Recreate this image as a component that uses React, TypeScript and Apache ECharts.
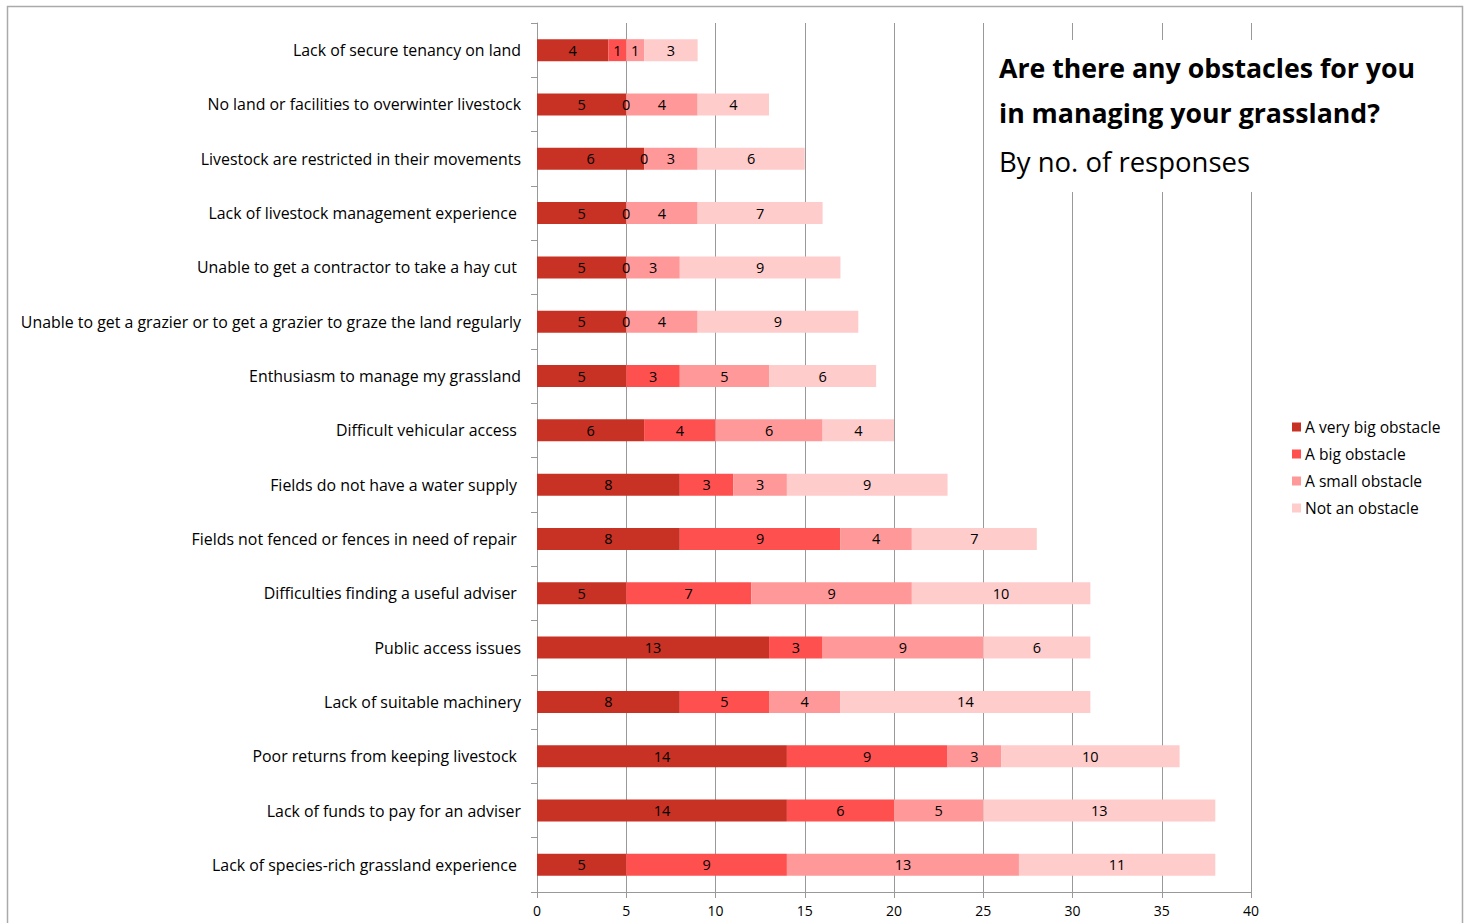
import React, { useEffect, useRef } from "react";
import * as echarts from "echarts";

const categories = [
  "Lack of secure tenancy on land",
  "No land or facilities to overwinter livestock",
  "Livestock are restricted in their movements",
  "Lack of livestock management experience ",
  "Unable to get a contractor to take a hay cut ",
  "Unable to get a grazier or to get a grazier to graze the land regularly",
  "Enthusiasm to manage my grassland",
  "Difficult vehicular access ",
  "Fields do not have a water supply ",
  "Fields not fenced or fences in need of repair ",
  "Difficulties finding a useful adviser ",
  "Public access issues",
  "Lack of suitable machinery",
  "Poor returns from keeping livestock ",
  "Lack of funds to pay for an adviser",
  "Lack of species-rich grassland experience ",
];

const veryBig = [4, 5, 6, 5, 5, 5, 5, 6, 8, 8, 5, 13, 8, 14, 14, 5];
const big = [1, 0, 0, 0, 0, 0, 3, 4, 3, 9, 7, 3, 5, 9, 6, 9];
const small = [1, 4, 3, 4, 3, 4, 5, 6, 3, 4, 9, 9, 4, 3, 5, 13];
const notObstacle = [3, 4, 6, 7, 9, 9, 6, 4, 9, 7, 10, 6, 14, 10, 13, 11];

const seriesNames = ["A very big obstacle", "A big obstacle", "A small obstacle", "Not an obstacle"];
const seriesColors = ["#C83224", "#FF5050", "#FF9999", "#FFCCCC"];
const seriesData = [veryBig, big, small, notObstacle];

const FONT = "'Open Sans', sans-serif";

export default function App() {
  const ref = useRef<HTMLDivElement>(null);
  useEffect(() => {
    if (!ref.current) return;
    const chart = echarts.init(ref.current, undefined, { renderer: "svg" });
    chart.setOption({
      animation: false,
      backgroundColor: "#ffffff",
      grid: { left: 537, top: 23, width: 714, height: 869, containLabel: false },
      xAxis: {
        type: "value",
        min: 0,
        max: 40,
        interval: 5,
        axisLine: { show: true, lineStyle: { color: "#999999", width: 1 } },
        axisTick: { show: true, length: 6, lineStyle: { color: "#999999" } },
        axisLabel: { color: "#000", fontFamily: FONT, fontSize: 14, margin: 11 },
        splitLine: { show: true, lineStyle: { color: "#999999", width: 1 } },
      },
      yAxis: {
        type: "category",
        inverse: true,
        data: categories,
        axisLine: { show: true, lineStyle: { color: "#999999" } },
        axisTick: { show: true, length: 6, lineStyle: { color: "#999999" } },
        axisLabel: { color: "#000", fontFamily: FONT, fontSize: 15.9, margin: 16 },
      },
      legend: {
        orient: "vertical",
        left: 1287,
        top: 414,
        itemWidth: 9,
        itemHeight: 9,
        itemGap: 11,
        icon: "rect",
        textStyle: { color: "#000", fontFamily: FONT, fontSize: 15.6, lineHeight: 16, padding: [0, 0, 0, -1] },
        data: seriesNames,
      },
      graphic: [
        {
          type: "rect",
          z: 100,
          shape: { x: 986, y: 40, width: 290, height: 152 },
          style: { fill: "#ffffff" },
        },
        {
          type: "text",
          z: 101,
          x: 999,
          y: 54,
          style: {
            text: "Are there any obstacles for you",
            font: `bold 26.7px ${FONT}`,
            fill: "#000",
          },
        },
        {
          type: "text",
          z: 101,
          x: 999,
          y: 99,
          style: {
            text: "in managing your grassland?",
            font: `bold 26.7px ${FONT}`,
            fill: "#000",
          },
        },
        {
          type: "text",
          z: 101,
          x: 999,
          y: 147,
          style: {
            text: "By no. of responses",
            font: `27.5px ${FONT}`,
            fill: "#000",
          },
        },
        {
          type: "rect",
          z: 101,
          shape: { x: 7.5, y: 6.5, width: 1455, height: 930 },
          style: { fill: "none", stroke: "#aaaaaa", lineWidth: 1.5 },
        },
      ],
      series: seriesData.map((d, i) => ({
        name: seriesNames[i],
        type: "bar",
        stack: "total",
        barWidth: 22,
        data: d,
        itemStyle: { color: seriesColors[i] },
        label: {
          show: true,
          position: "inside",
          color: "#000",
          fontFamily: FONT,
          fontSize: 14.5,
        },
      })),
    });
    return () => chart.dispose();
  }, []);
  return (
    <div
      ref={ref}
      style={{ position: "fixed", left: 0, top: 0, width: 1469, height: 923 }}
    />
  );
}
